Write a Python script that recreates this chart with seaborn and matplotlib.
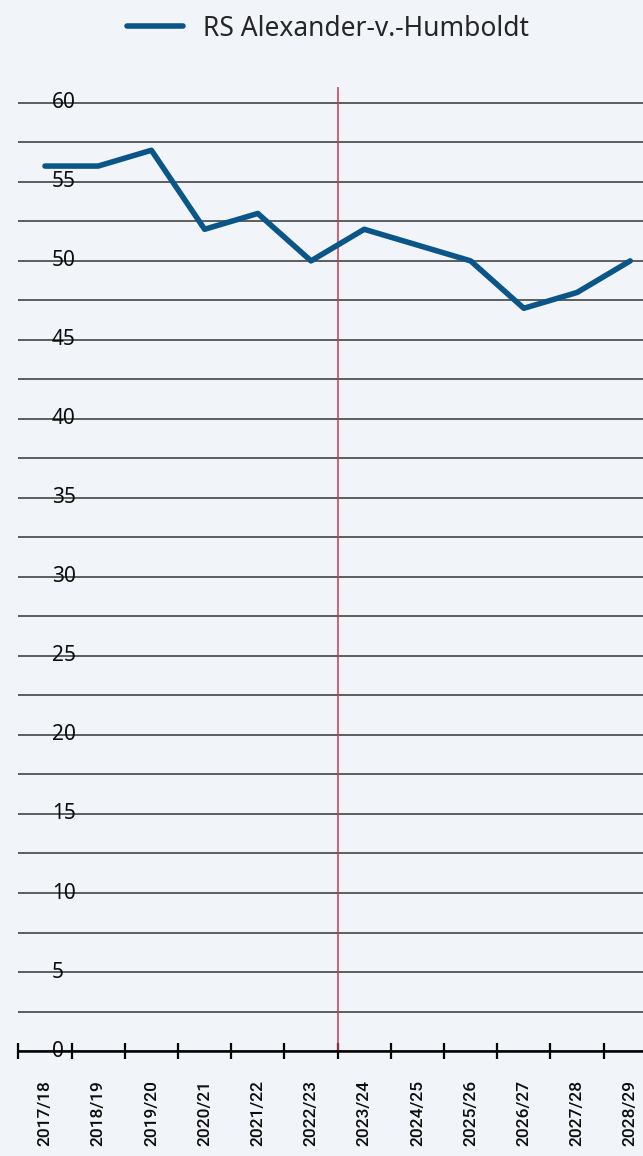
import numpy as np
import pandas as pd
import seaborn as sns
import matplotlib.pyplot as plt
from matplotlib.ticker import FixedLocator

# data
years = ['2017/18', '2018/19', '2019/20', '2020/21', '2021/22', '2022/23',
         '2023/24', '2024/25', '2025/26', '2026/27', '2027/28', '2028/29']
values = [56, 56, 57, 52, 53, 50, 52, 51, 50, 47, 48, 50]
series_name = 'RS Alexander-v.-Humboldt'
y_labels = [0, 5, 10, 15, 20, 25, 30, 35, 40, 45, 50, 55, 60]

df = pd.DataFrame({'year': years, 'value': values, 'school': series_name})

bg = '#f1f5f9'
sns.set_style("white")
plt.rcParams['font.family'] = ['Noto Sans', 'DejaVu Sans']

fig = plt.figure(figsize=(6.43, 11.56), dpi=100, facecolor=bg)
ax = fig.add_axes([0.0286, 0.0908, 0.9714, 0.8339])
ax.set_facecolor(bg)

sns.lineplot(data=df, x='year', y='value', hue='school', palette=['#0b5688'],
             linewidth=4, sort=False, ax=ax, zorder=4, legend=False)

# red marker between past and forecast
ax.axvline(5.5, color='#c43a52', linewidth=1.1, zorder=3)

ax.set_xlim(-0.5, 11.24)
ax.set_ylim(0, 61)

# y grid every 2.5, labels every 5 drawn inside the axes
ax.set_yticks(y_labels)
ax.yaxis.set_minor_locator(FixedLocator(np.arange(2.5, 60, 5)))
ax.grid(True, which='both', axis='y', color='#353535', linewidth=1.1, zorder=1)
ax.grid(False, axis='x')
ax.tick_params(axis='y', which='both', left=False, length=0, pad=-24, labelsize=15, labelcolor='#0d0d0d')
for lab in ax.get_yticklabels():
    lab.set_ha('left')
    lab.set_va('center')
    lab.set_fontweight('medium')

# x: labels at points, tick marks at boundaries
ax.set_xticks(range(len(years)))
ax.set_xticklabels(years, rotation=90, fontsize=12.5, fontweight='medium',
                   family=['Roboto', 'DejaVu Sans'])
ax.xaxis.set_minor_locator(FixedLocator(np.arange(-0.5, 11.5, 1)))
ax.tick_params(axis='x', which='major', bottom=False, length=0, pad=21, labelcolor='#0d0d0d')
ax.tick_params(axis='x', which='minor', bottom=True, direction='inout', length=11.5, width=1.6, color='black')

for s in ['top', 'right', 'left']:
    ax.spines[s].set_visible(False)
ax.spines['bottom'].set_color('black')
ax.spines['bottom'].set_linewidth(1.8)
ax.spines['bottom'].set_zorder(5)

ax.set_xlabel('')
ax.set_ylabel('')

handle = plt.Line2D([], [], color='#0b5688', linewidth=4)
fig.legend([handle], [series_name], loc='upper center', bbox_to_anchor=(0.51, 1.008),
           frameon=False, prop={'size': 19, 'weight': 'medium'},
           handlelength=2.1, handletextpad=0.75)

plt.savefig('out.png', dpi=100, facecolor=bg)
